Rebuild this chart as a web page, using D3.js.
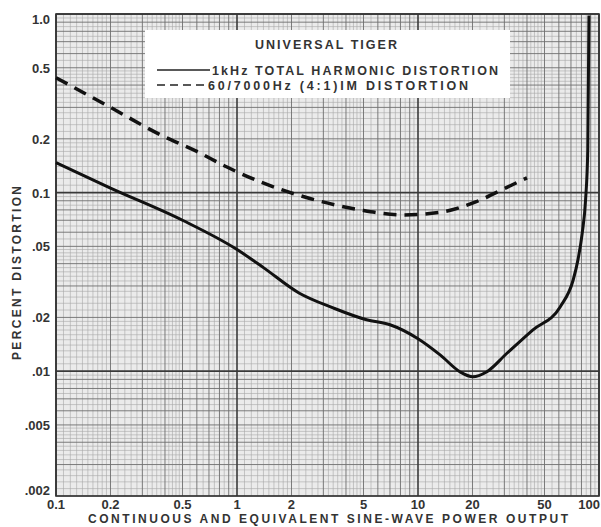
<!DOCTYPE html>
<html>
<head>
<meta charset="utf-8">
<script src="https://cdn.jsdelivr.net/npm/d3@7"></script>
<style>
  body { margin: 0; background: #fff; }
  text { font-family: "Liberation Sans", Arial, sans-serif; fill: #333; }
</style>
</head>
<body>
<svg id="chart"></svg>
<script>
// 1kHz THD (solid)
const thdPower = [0.1, 0.2, 0.5, 1.0, 1.4, 2.2, 3.4, 5.2, 7.0, 9.9, 13.3, 17.1, 20.1, 23.9, 31, 43, 61, 72, 76.5, 80.8, 84.3, 86.7, 88];
const thdPct   = [0.147, 0.106, 0.070, 0.048, 0.038, 0.0274, 0.0226, 0.0194, 0.0182, 0.0153, 0.0123, 0.0099, 0.0093, 0.0099, 0.0126, 0.0170, 0.0229, 0.0324, 0.042, 0.0594, 0.091, 0.173, 0.98];

// 60/7000Hz IM (dashed)
const imPower = [0.1, 0.2, 0.38, 0.6, 0.88, 1.34, 2.5, 4.8, 8.3, 13.7, 21, 31, 40];
const imPct   = [0.44, 0.30, 0.21, 0.17, 0.139, 0.115, 0.093, 0.080, 0.075, 0.078, 0.089, 0.107, 0.121];

const xTicks = [0.1, 0.2, 0.5, 1, 2, 5, 10, 20, 50, 100];
const xTickLabels = ['0.1', '0.2', '0.5', '1', '2', '5', '10', '20', '50', '100'];
const yTicks = [1, 0.5, 0.2, 0.1, 0.05, 0.02, 0.01, 0.005, 0.002];
const yTickLabels = ['1.0', '0.5', '0.2', '0.1', '.05', '.02', '.01', '.005', '.002'];

const width = 601, height = 527;
const pL = 56, pR = 599, pT = 14, pB = 496;

const svg = d3.select('#chart')
    .attr('width', width)
    .attr('height', height);

const x = d3.scaleLog().domain([0.1, 100]).range([pL, pR]);
const y = d3.scaleLog().domain([0.002, 1]).range([pB, pT]);

// graph paper
svg.append('rect')
    .attr('x', pL).attr('y', pT)
    .attr('width', pR - pL).attr('height', pB - pT)
    .attr('fill', '#ebebeb');

function gridValues(lo, hi) {
    const fine = [], medium = [], major = [];
    for (let d = lo; d < hi * 1.0001; d *= 10) {
        major.push(d);
        if (d >= hi * 0.9999) break;
        for (let m = 2; m <= 9; m++) medium.push(d * m);
        for (let m = 1.1; m < 1.95; m += 0.1) fine.push(d * m);
        for (let m = 2.2; m < 4.9; m += 0.2) if (Math.abs(m - 3) > 0.05 && Math.abs(m - 4) > 0.05) fine.push(d * m);
        for (let m = 5.5; m < 9.6; m += 1) fine.push(d * m);
    }
    return { fine, medium, major };
}

const gx = gridValues(0.1, 100);
const gy = gridValues(0.001, 1);

const grid = svg.append('g');
const styles = { fine: ['#a8a8a8', 0.6], medium: ['#6e6e6e', 0.9], major: ['#3a3a3a', 1.6] };
['fine', 'medium', 'major'].forEach(k => {
    grid.selectAll('.vx-' + k)
        .data(gx[k])
        .enter().append('line')
        .attr('x1', d => x(d)).attr('x2', d => x(d))
        .attr('y1', pT).attr('y2', pB)
        .attr('stroke', styles[k][0]).attr('stroke-width', styles[k][1]);
    grid.selectAll('.hy-' + k)
        .data(gy[k].filter(d => d >= 0.002 && d <= 1))
        .enter().append('line')
        .attr('y1', d => y(d)).attr('y2', d => y(d))
        .attr('x1', pL).attr('x2', pR)
        .attr('stroke', styles[k][0]).attr('stroke-width', styles[k][1]);
});

svg.append('rect')
    .attr('x', pL).attr('y', pT)
    .attr('width', pR - pL).attr('height', pB - pT)
    .attr('fill', 'none').attr('stroke', '#333').attr('stroke-width', 1.6);

// tick labels
svg.append('g').selectAll('text')
    .data(xTicks)
    .enter().append('text')
    .attr('x', d => d === 100 ? 600 : x(d))
    .attr('y', 509)
    .attr('text-anchor', d => d === 100 ? 'end' : 'middle')
    .attr('font-size', 13)
    .attr('font-weight', 'bold')
    .text((d, i) => xTickLabels[i]);

svg.append('g').selectAll('text')
    .data(yTicks)
    .enter().append('text')
    .attr('x', 50)
    .attr('y', d => Math.min(Math.max(y(d), 19), 490) + 5)
    .attr('text-anchor', 'end')
    .attr('font-size', 13)
    .attr('font-weight', 'bold')
    .text((d, i) => yTickLabels[i]);

svg.append('text')
    .attr('x', 328).attr('y', 523)
    .attr('text-anchor', 'middle')
    .attr('font-size', 12)
    .attr('font-weight', 'bold')
    .attr('textLength', 480)
    .text('CONTINUOUS AND EQUIVALENT SINE-WAVE POWER OUTPUT');

svg.append('text')
    .attr('transform', 'translate(21,273) rotate(-90)')
    .attr('text-anchor', 'middle')
    .attr('font-size', 12)
    .attr('font-weight', 'bold')
    .attr('textLength', 174)
    .text('PERCENT DISTORTION');

// curves
const line = d3.line()
    .x(d => x(d[0]))
    .y(d => y(d[1]))
    .curve(d3.curveMonotoneX);

svg.append('path')
    .datum(thdPower.map((p, i) => [p, thdPct[i]]))
    .attr('d', line)
    .attr('fill', 'none')
    .attr('stroke', '#111')
    .attr('stroke-width', 3);

svg.append('path')
    .datum(imPower.map((p, i) => [p, imPct[i]]))
    .attr('d', line)
    .attr('fill', 'none')
    .attr('stroke', '#111')
    .attr('stroke-width', 3.5)
    .attr('stroke-dasharray', '13,8');

// legend
const lg = svg.append('g');
lg.append('rect')
    .attr('x', 145).attr('y', 30)
    .attr('width', 365).attr('height', 68)
    .attr('fill', '#fff');
lg.append('text')
    .attr('x', 326).attr('y', 49)
    .attr('text-anchor', 'middle')
    .attr('font-size', 12.5)
    .attr('font-weight', 'bold')
    .attr('textLength', 142)
    .text('UNIVERSAL TIGER');
lg.append('line')
    .attr('x1', 157).attr('x2', 210).attr('y1', 70).attr('y2', 70)
    .attr('stroke', '#222').attr('stroke-width', 1.6);
lg.append('text')
    .attr('x', 212).attr('y', 75)
    .attr('font-size', 12.5)
    .attr('font-weight', 'bold')
    .attr('textLength', 286)
    .text('1kHz TOTAL HARMONIC DISTORTION');
lg.append('line')
    .attr('x1', 157).attr('x2', 206).attr('y1', 85).attr('y2', 85)
    .attr('stroke', '#222').attr('stroke-width', 1.6)
    .attr('stroke-dasharray', '8,5');
lg.append('text')
    .attr('x', 208).attr('y', 90)
    .attr('font-size', 12.5)
    .attr('font-weight', 'bold')
    .attr('textLength', 260)
    .text('60/7000Hz (4:1)IM DISTORTION');
</script>
</body>
</html>
